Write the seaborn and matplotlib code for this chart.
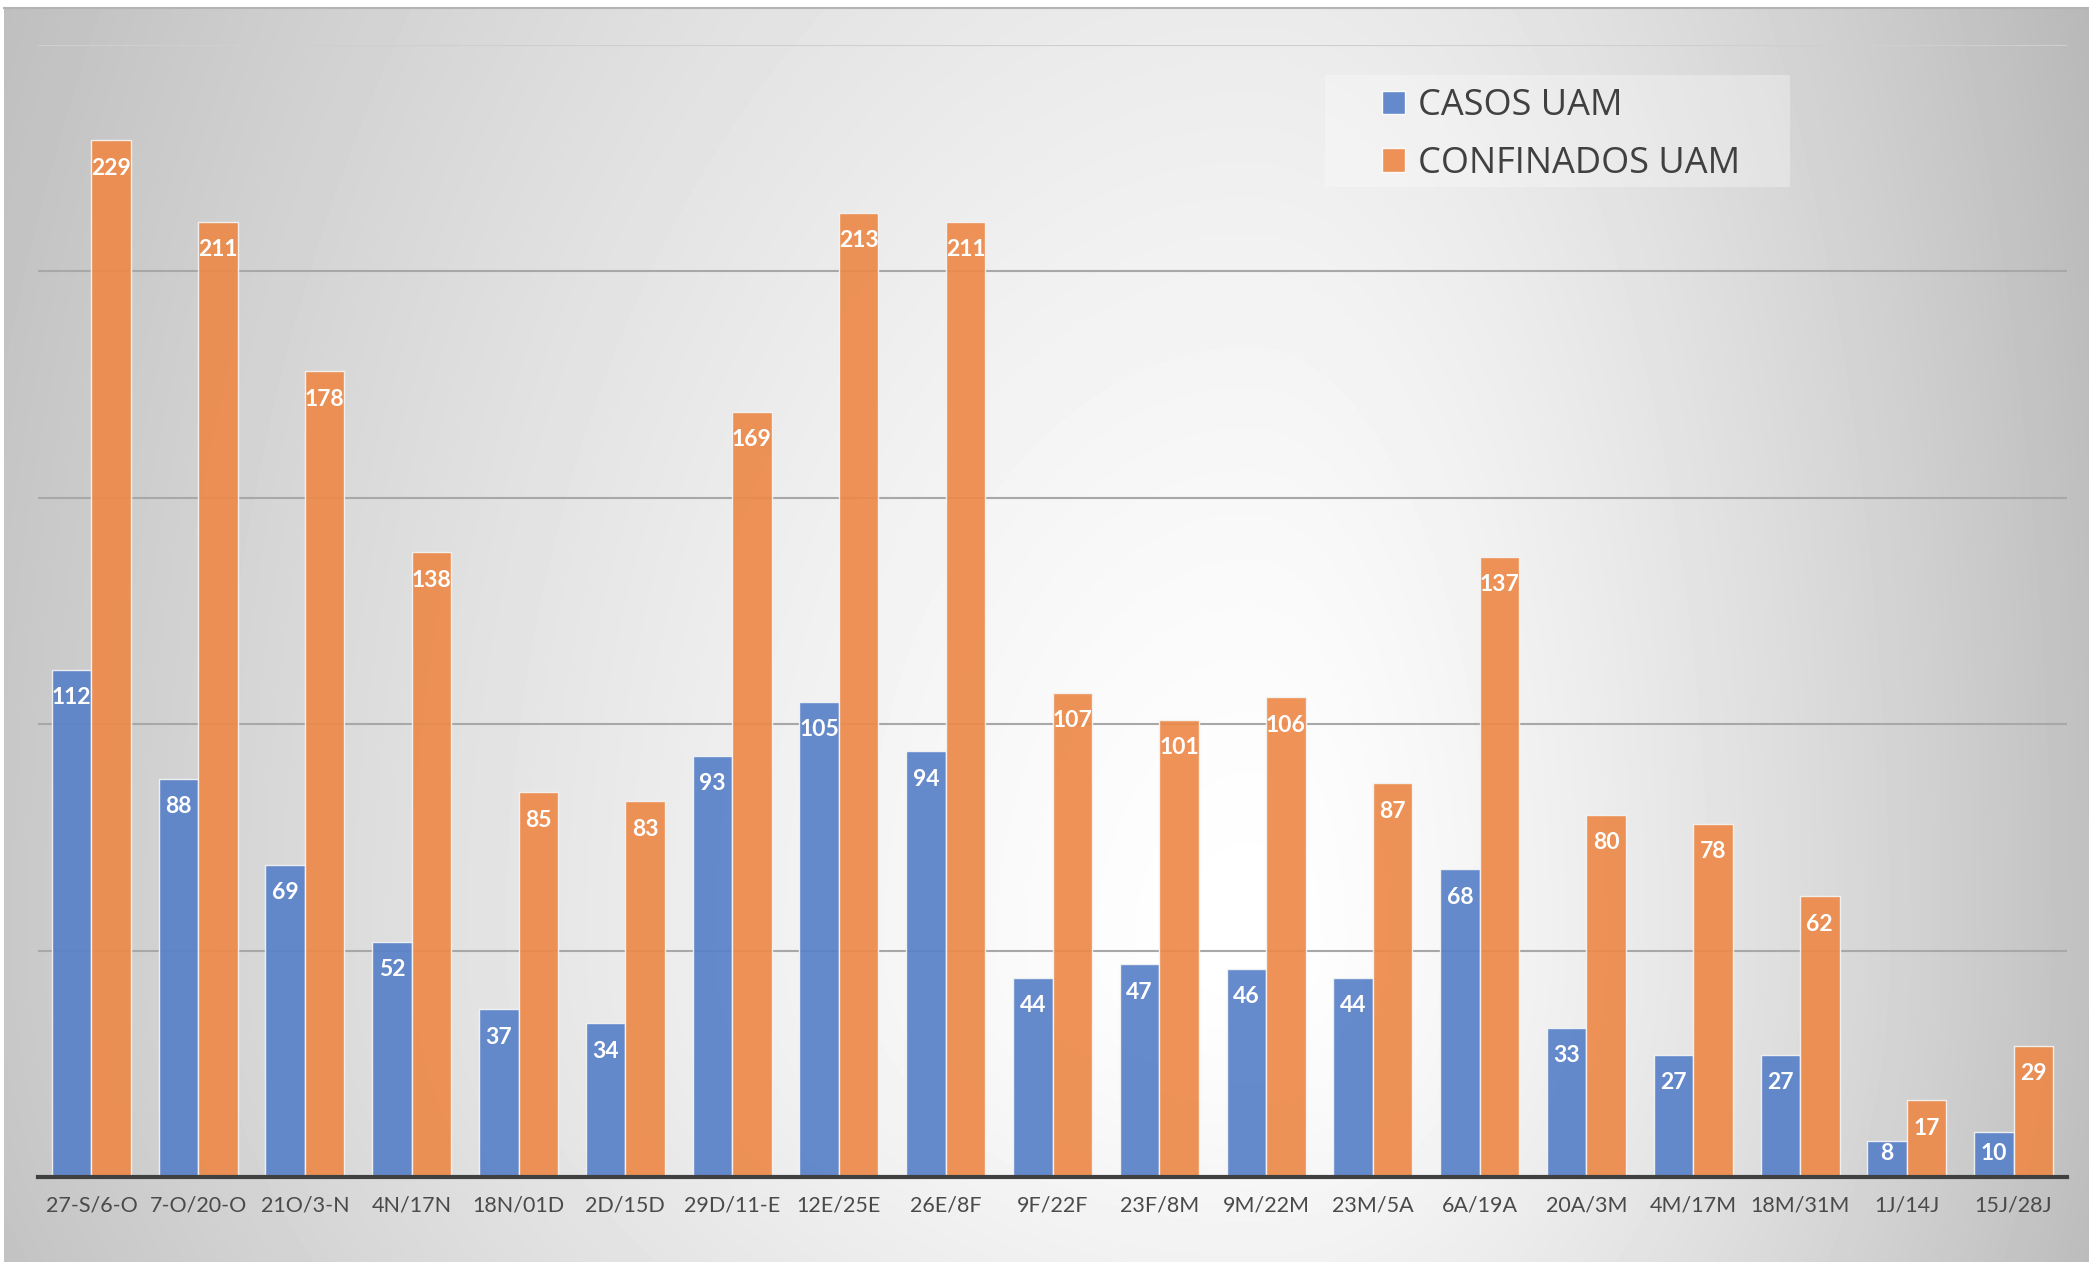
import numpy as np
import pandas as pd
import matplotlib
matplotlib.use('Agg')
import matplotlib.pyplot as plt
from matplotlib.patches import Patch, Rectangle
import seaborn as sns

# Data
periodos = ['27-S/6-O', '7-O/20-O', '21O/3-N', '4N/17N', '18N/01D', '2D/15D',
            '29D/11-E', '12E/25E', '26E/8F', '9F/22F', '23F/8M', '9M/22M',
            '23M/5A', '6A/19A', '20A/3M', '4M/17M', '18M/31M', '1J/14J', '15J/28J']
casos = [112, 88, 69, 52, 37, 34, 93, 105, 94, 44, 47, 46, 44, 68, 33, 27, 27, 8, 10]
confinados = [229, 211, 178, 138, 85, 83, 169, 213, 211, 107, 101, 106, 87, 137, 80, 78, 62, 17, 29]
series = ['CASOS UAM', 'CONFINADOS UAM']

colores = ['#5a82c9', '#ed8a4a']

df = pd.DataFrame({
    'periodo': periodos * 2,
    'valor': casos + confinados,
    'serie': [series[0]] * len(periodos) + [series[1]] * len(periodos),
})

sns.set_style('white')
plt.rcParams['font.family'] = ['Lato', 'DejaVu Sans']

W, H = 2089, 1262
fig = plt.figure(figsize=(W / 100, H / 100), dpi=100)
fig.patch.set_facecolor('white')

# radial grey-to-white background, brightest a bit right of and below centre
bg = fig.add_axes([4 / W, 0, (W - 4) / W, (H - 8) / H])
xx, yy = np.meshgrid(np.arange(W - 4) + 4, np.arange(H - 8) + 8)
dx = xx - 1250.0
dy = yy - 950.0
sx = np.where(dx < 0, 1300.0, 800.0)
sy = np.where(dy < 0, 2000.0, 900.0)
r = np.sqrt((dx / sx) ** 2 + (dy / sy) ** 2)
shade = np.clip(1 - 0.23 * r ** 1.4, 0, 1)
bg.imshow(shade, cmap='gray', vmin=0, vmax=1, aspect='auto',
          interpolation='bilinear')
bg.set_xticks([])
bg.set_yticks([])
for s in ['left', 'right', 'bottom']:
    bg.spines[s].set_visible(False)
bg.spines['top'].set_color('#b4b4b4')
bg.spines['top'].set_linewidth(1.5)
bg.set_zorder(0)

ax = fig.add_axes([38 / W, (H - 1177) / H, (2067 - 38) / W, (1177 - 45) / H])
ax.set_zorder(1)
ax.patch.set_alpha(0)

sns.barplot(data=df, x='periodo', y='valor', hue='serie', palette=colores,
            width=0.74, edgecolor='#f4f4f4', linewidth=1.0, alpha=0.93,
            saturation=1, ax=ax, zorder=3)

ax.set_ylim(0, 250)
ax.set_yticks([50, 100, 150, 200, 250])
ax.set_yticklabels([])
ax.yaxis.grid(True, color='#a8a8a8', linewidth=1.5, zorder=0)
ax.set_axisbelow(True)
ax.get_ygridlines()[-1].set_color('#cfcfcf')
ax.tick_params(axis='both', length=0)
ax.tick_params(axis='x', pad=13, labelsize=15.5, labelcolor='#4a4a4a')
ax.set_xlabel('')
ax.set_ylabel('')
for s in ['left', 'right', 'top']:
    ax.spines[s].set_visible(False)
ax.spines['bottom'].set_color('#404040')
ax.spines['bottom'].set_linewidth(3)
ax.spines['bottom'].set_zorder(5)

# data labels inside the top of each bar
for cont, vals in zip(ax.containers, [casos, confinados]):
    for bar, v in zip(cont, vals):
        y = max(v - 6.2, 5.3)
        ax.text(bar.get_x() + bar.get_width() / 2, y, str(v), ha='center',
                va='center', color='white', fontsize=16.5, fontweight='bold',
                zorder=6)

ax.get_legend().remove()

# legend with its own light box
fig.patches.append(Rectangle((1325 / W, 1 - 187 / H), 465 / W, 112 / H,
                             transform=fig.transFigure, facecolor='white',
                             alpha=0.3, edgecolor='none', zorder=1))
handles = [Patch(facecolor=c, edgecolor='white', linewidth=1, alpha=0.93)
           for c in colores]
leg = fig.legend(handles, series, loc='center left',
                 bbox_to_anchor=(1382 / W, 1 - 135 / H),
                 bbox_transform=fig.transFigure, frameon=False,
                 prop={'family': ['Open Sans', 'DejaVu Sans'], 'size': 26},
                 handlelength=0.64, handleheight=0.64, handletextpad=0.35,
                 labelspacing=0.6, borderpad=0, borderaxespad=0)
for t in leg.get_texts():
    t.set_color('#404040')

fig.savefig('out.png', dpi=100)
